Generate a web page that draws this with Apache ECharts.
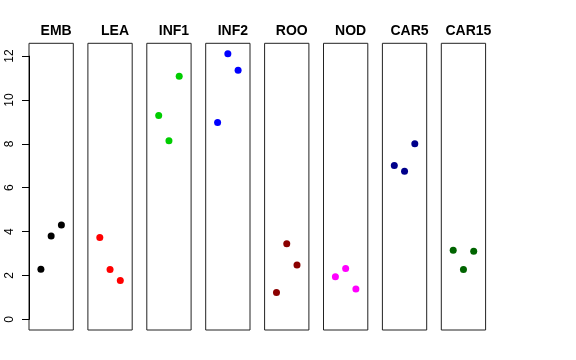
<!DOCTYPE html>
<html><head><meta charset="utf-8">
<script src="https://cdn.jsdelivr.net/npm/echarts@6/dist/echarts.min.js"></script>
<style>html,body{margin:0;padding:0;background:#fff}#c{width:576px;height:360px}</style>
</head><body><div id="c"></div>
<script>
const categories = ['EMB','LEA','INF1','INF2','ROO','NOD','CAR5','CAR15'];
const colors = ['#000000','#FF0000','#00CD00','#0000FF','#8B0000','#FF00FF','#00008B','#006400'];
const xPos = [1, 2, 3];
const EMB = [2.28, 3.80, 4.30];
const LEA = [3.73, 2.27, 1.77];
const INF1 = [9.29, 8.14, 11.08];
const INF2 = [8.97, 12.11, 11.35];
const ROO = [1.23, 3.45, 2.48];
const NOD = [1.94, 2.32, 1.38];
const CAR5 = [7.01, 6.75, 8.00];
const CAR15 = [3.15, 2.27, 3.10];
const seriesValues = [EMB, LEA, INF1, INF2, ROO, NOD, CAR5, CAR15];
const yTicks = [0, 2, 4, 6, 8, 10, 12];

const yMin = -0.484, yMax = 12.584;
const panelLeft = 29, panelStep = 58.9, panelW = 44.3, panelTop = 43.3, panelBottom = 330;
const panelH = panelBottom - panelTop;
const pxPerUnit = panelH / (yMax - yMin);

const grids = [], xAxes = [], yAxes = [], series = [], titles = [];
categories.forEach((cat, i) => {
  const left = panelLeft + i * panelStep;
  grids.push({left: left, top: panelTop, width: panelW, height: panelH, show: true,
    borderColor: '#222', borderWidth: 1, backgroundColor: 'transparent', containLabel: false});
  xAxes.push({type: 'value', gridIndex: i, min: -0.16, max: 4.16, show: false});
  yAxes.push({type: 'value', gridIndex: i, min: yMin, max: yMax, show: false});
  series.push({type: 'scatter', xAxisIndex: i, yAxisIndex: i, symbol: 'circle', symbolSize: 7,
    itemStyle: {color: colors[i], opacity: 1}, data: xPos.map((x, k) => [x, seriesValues[i][k]]), silent: true});
  titles.push({text: cat, left: left + panelW / 2, top: 19, textAlign: 'center',
    textStyle: {fontFamily: 'Liberation Sans', fontWeight: 'bold', fontSize: 14, color: '#000'}});
});
// separate axis-only grid spanning 0..12 on the first panel's scale
const axTop = panelTop + (yMax - yTicks[yTicks.length-1]) * pxPerUnit;
const axBottom = panelBottom - (yTicks[0] - yMin) * pxPerUnit;
grids.push({left: panelLeft, top: axTop, width: panelW, height: axBottom - axTop, show: false});
const gi = grids.length - 1;
xAxes.push({type: 'value', gridIndex: gi, show: false, min: 0, max: 1});
yAxes.push({type: 'value', gridIndex: gi, min: yTicks[0], max: yTicks[yTicks.length-1], interval: 2,
  axisLine: {show: true, lineStyle: {color: '#000', width: 1}},
  axisTick: {show: true, length: 7, inside: false, lineStyle: {color: '#000'}},
  splitLine: {show: false},
  axisLabel: {show: true, rotate: 90, margin: 13, fontFamily: 'Liberation Sans', fontSize: 12, color: '#000',
    formatter: v => String(v)}});

const chart = echarts.init(document.getElementById('c'), null, {renderer: 'canvas'});
chart.setOption({animation: false, backgroundColor: '#fff', title: titles, grid: grids,
  xAxis: xAxes, yAxis: yAxes, series: series});
</script></body></html>
